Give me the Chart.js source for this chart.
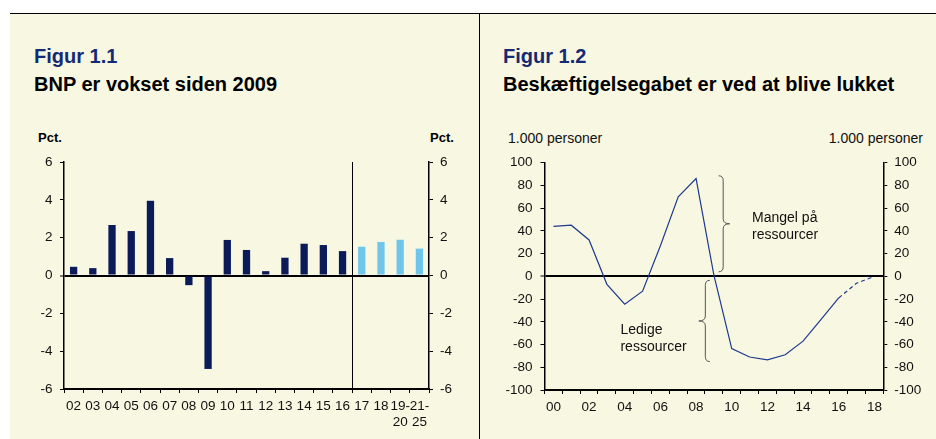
<!DOCTYPE html>
<html><head><meta charset="utf-8">
<script src="https://cdn.jsdelivr.net/npm/chart.js@4.4.1/dist/chart.umd.min.js"></script>
<style>
html,body{margin:0;padding:0;background:#fff;}
#page{position:relative;width:936px;height:439px;overflow:hidden;font-family:"Liberation Sans",Arial,sans-serif;}
#bg{position:absolute;left:10px;top:14px;right:0;bottom:0;background:#f8f7e1;}
#topline{position:absolute;left:10px;top:13px;width:926px;height:1px;background:#000;}
#divider{position:absolute;left:479px;top:13px;width:1px;height:426px;background:#000;}
.fig{position:absolute;font-weight:bold;font-size:20px;color:#142a74;line-height:1;white-space:nowrap;}
.ttl{position:absolute;font-weight:bold;font-size:20px;color:#000;line-height:1;white-space:nowrap;}
.pct{position:absolute;font-weight:bold;font-size:13px;color:#000;line-height:1;white-space:nowrap;}
.unit{position:absolute;font-size:14px;color:#111;line-height:1;white-space:nowrap;}
canvas{position:absolute;}
</style>
</head>
<body>
<div id="page">
  <div id="bg"></div>
  <div id="topline"></div>
  <div id="divider"></div>
  <div class="fig" style="left:34px;top:46.4px;">Figur 1.1</div>
  <div class="ttl" style="left:34px;top:73.6px;">BNP er vokset siden 2009</div>
  <div class="fig" style="left:503px;top:46.4px;">Figur 1.2</div>
  <div class="ttl" style="left:503px;top:73.6px;">Beskæftigelsegabet er ved at blive lukket</div>
  <div class="pct" style="left:38px;top:131px;">Pct.</div>
  <div class="pct" style="left:430px;top:131px;">Pct.</div>
  <div class="unit" style="left:508px;top:130.5px;">1.000 personer</div>
  <div class="unit" style="right:13px;top:130.5px;">1.000 personer</div>
  <canvas id="c1" width="470" height="319" style="left:0;top:120px;"></canvas>
  <canvas id="c2" width="466" height="319" style="left:470px;top:120px;"></canvas>
</div>
<script>
// ---------- Data ----------
const gdpYears = ['02','03','04','05','06','07','08','09','10','11','12','13','14','15','16','17','18',['19-','20'],['21-','25']];
const gdpGrowth = [0.46,0.39,2.67,2.35,3.95,0.92,-0.51,-4.94,1.88,1.35,0.23,0.94,1.68,1.61,1.29,1.52,1.77,1.89,1.42];
const gdpForecastFrom = 15; // index of '17'

const gapYears = ['00','01','02','03','04','05','06','07','08','09','10','11','12','13','14','15','16','17','18'];
const employmentGap = [44,45,32,-7,-24.5,-13,27,70,86,1,-63.5,-71,-73.5,-69,-57,-38,-19,-6,0];
const gapProjectionFrom = 16; // index of '16'

const annotationTexts = {
  shortage: ['Mangel på','ressourcer'],
  slack: ['Ledige','ressourcer']
};

// ---------- Styles ----------
const FONT = '"Liberation Sans", Arial, sans-serif';
const NAVY = '#0b1b5a';
const LIGHT = '#70c6ea';
const LINE = '#1e3a8f';
Chart.defaults.font.family = FONT;
Chart.defaults.color = '#111';

const tickFont = {family: FONT, size: 13.5, lineHeight: 1.24};

function zeroGrid(ctx){ return ctx.tick && ctx.tick.value === 0 ? '#000' : 'rgba(0,0,0,0)'; }
function zeroWidth(ctx){ return ctx.tick && ctx.tick.value === 0 ? 2 : 1; }

// Divider between outcome and forecast in bar chart
const dividerPlugin = {
  id: 'divider',
  afterDatasetsDraw(chart){
    const x = chart.scales.x;
    const a = chart.chartArea;
    const px = (x.getPixelForValue(gdpForecastFrom - 1) + x.getPixelForValue(gdpForecastFrom)) / 2;
    const c = chart.ctx;
    c.save();
    c.strokeStyle = '#000';
    c.lineWidth = 1;
    c.beginPath();
    c.moveTo(Math.round(px) + 0.5, a.top);
    c.lineTo(Math.round(px) + 0.5, a.bottom);
    c.stroke();
    c.restore();
  }
};

new Chart(document.getElementById('c1'), {
  type: 'bar',
  data: {
    labels: gdpYears,
    datasets: [{
      data: gdpGrowth,
      backgroundColor: ctx => ctx.dataIndex >= gdpForecastFrom ? LIGHT : NAVY,
      borderWidth: 0,
      barPercentage: 0.38,
      categoryPercentage: 1
    }]
  },
  options: {
    responsive: false,
    animation: false,
    devicePixelRatio: 1,
    layout: {padding: {top: 42, left: 0, right: 0, bottom: 0}},
    plugins: {legend: {display: false}, tooltip: {enabled: false}},
    scales: {
      x: {
        offset: true,
        grid: {offset: true, drawOnChartArea: false, drawTicks: true, tickLength: 4, color: '#000', lineWidth: 1},
        border: {display: true, color: '#000', width: 2},
        ticks: {autoSkip: false, maxRotation: 0, minRotation: 0, padding: 4.5, color: '#111', font: tickFont},
        afterFit: s => { s.height = 50; }
      },
      y: {
        position: 'left', min: -6, max: 6,
        ticks: {stepSize: 2, padding: 7.5, color: '#111', font: tickFont},
        grid: {drawOnChartArea: true, color: zeroGrid, lineWidth: zeroWidth, tickColor: '#000', tickWidth: 1, tickLength: 4},
        border: {display: true, color: '#000', width: 1.5},
        afterFit: s => { s.width = 64; }
      },
      y2: {
        position: 'right', min: -6, max: 6,
        ticks: {stepSize: 2, padding: 7, color: '#111', font: tickFont},
        grid: {drawOnChartArea: false, tickColor: '#000', color: '#000', tickWidth: 1, tickLength: 4},
        border: {display: true, color: '#000', width: 1.5},
        afterFit: s => { s.width = 41; }
      }
    }
  },
  plugins: [dividerPlugin]
});

// Braces and annotation text for the line chart
const bracePlugin = {
  id: 'braces',
  afterDatasetsDraw(chart){
    const xs = chart.scales.x, ys = chart.scales.y;
    const c = chart.ctx;
    function brace(xIdx, yTop, yBot, dir){
      const b = xs.getPixelForValue(xIdx);
      const t = ys.getPixelForValue(yTop);
      const u = ys.getPixelForValue(yBot);
      const m = (t + u) / 2;
      const w1 = 4.5, w2 = 6.5, r = 5;
      c.beginPath();
      c.moveTo(b - dir * w1, t);
      c.quadraticCurveTo(b, t, b, t + r);
      c.lineTo(b, m - r);
      c.quadraticCurveTo(b, m, b + dir * w2, m);
      c.quadraticCurveTo(b, m, b, m + r);
      c.lineTo(b, u - r);
      c.quadraticCurveTo(b, u, b - dir * w1, u);
      c.stroke();
    }
    c.save();
    c.strokeStyle = '#555';
    c.lineWidth = 1;
    brace(9.52, 88.5, 4, 1);
    brace(8.52, -3.5, -75, -1);
    c.fillStyle = '#111';
    c.font = '14px ' + FONT;
    c.textAlign = 'left';
    c.textBaseline = 'middle';
    const sx = xs.getPixelForValue(11.14), sy = ys.getPixelForValue(51.3);
    c.fillText(annotationTexts.shortage[0], sx, sy);
    c.fillText(annotationTexts.shortage[1], sx, sy + 17);
    const lx = xs.getPixelForValue(3.76), ly = ys.getPixelForValue(-47.2);
    c.fillText(annotationTexts.slack[0], lx, ly);
    c.fillText(annotationTexts.slack[1], lx, ly + 17);
    c.restore();
  }
};

new Chart(document.getElementById('c2'), {
  type: 'line',
  data: {
    labels: gapYears,
    datasets: [{
      data: employmentGap,
      borderColor: LINE,
      borderWidth: 1.2,
      pointRadius: 0,
      tension: 0,
      fill: false,
      segment: {borderDash: ctx => ctx.p0DataIndex >= gapProjectionFrom ? [4, 3] : undefined}
    }]
  },
  options: {
    responsive: false,
    animation: false,
    devicePixelRatio: 1,
    layout: {padding: {top: 42.7, left: 0, right: 0, bottom: 0}},
    plugins: {legend: {display: false}, tooltip: {enabled: false}},
    scales: {
      x: {
        type: 'category',
        offset: true,
        grid: {offset: true, drawOnChartArea: false, drawTicks: true, tickLength: 4, color: '#000', lineWidth: 1},
        border: {display: true, color: '#000', width: 2},
        ticks: {autoSkip: false, maxRotation: 0, minRotation: 0, padding: 5, color: '#111', font: tickFont,
          callback: (v, i) => i % 2 === 0 ? gapYears[i] : ''},
        afterFit: s => { s.height = 49; }
      },
      y: {
        position: 'left', min: -100, max: 100,
        ticks: {stepSize: 20, padding: 8, color: '#111', font: tickFont},
        grid: {drawOnChartArea: true, color: zeroGrid, lineWidth: zeroWidth, tickColor: '#000', tickWidth: 1, tickLength: 4},
        border: {display: true, color: '#000', width: 1.5},
        afterFit: s => { s.width = 74.5; }
      },
      y2: {
        position: 'right', min: -100, max: 100,
        ticks: {stepSize: 20, padding: 7, color: '#111', font: tickFont},
        grid: {drawOnChartArea: false, tickColor: '#000', color: '#000', tickWidth: 1, tickLength: 4},
        border: {display: true, color: '#000', width: 1.5},
        afterFit: s => { s.width = 52.7; }
      }
    }
  },
  plugins: [bracePlugin]
});
</script>
</body></html>
